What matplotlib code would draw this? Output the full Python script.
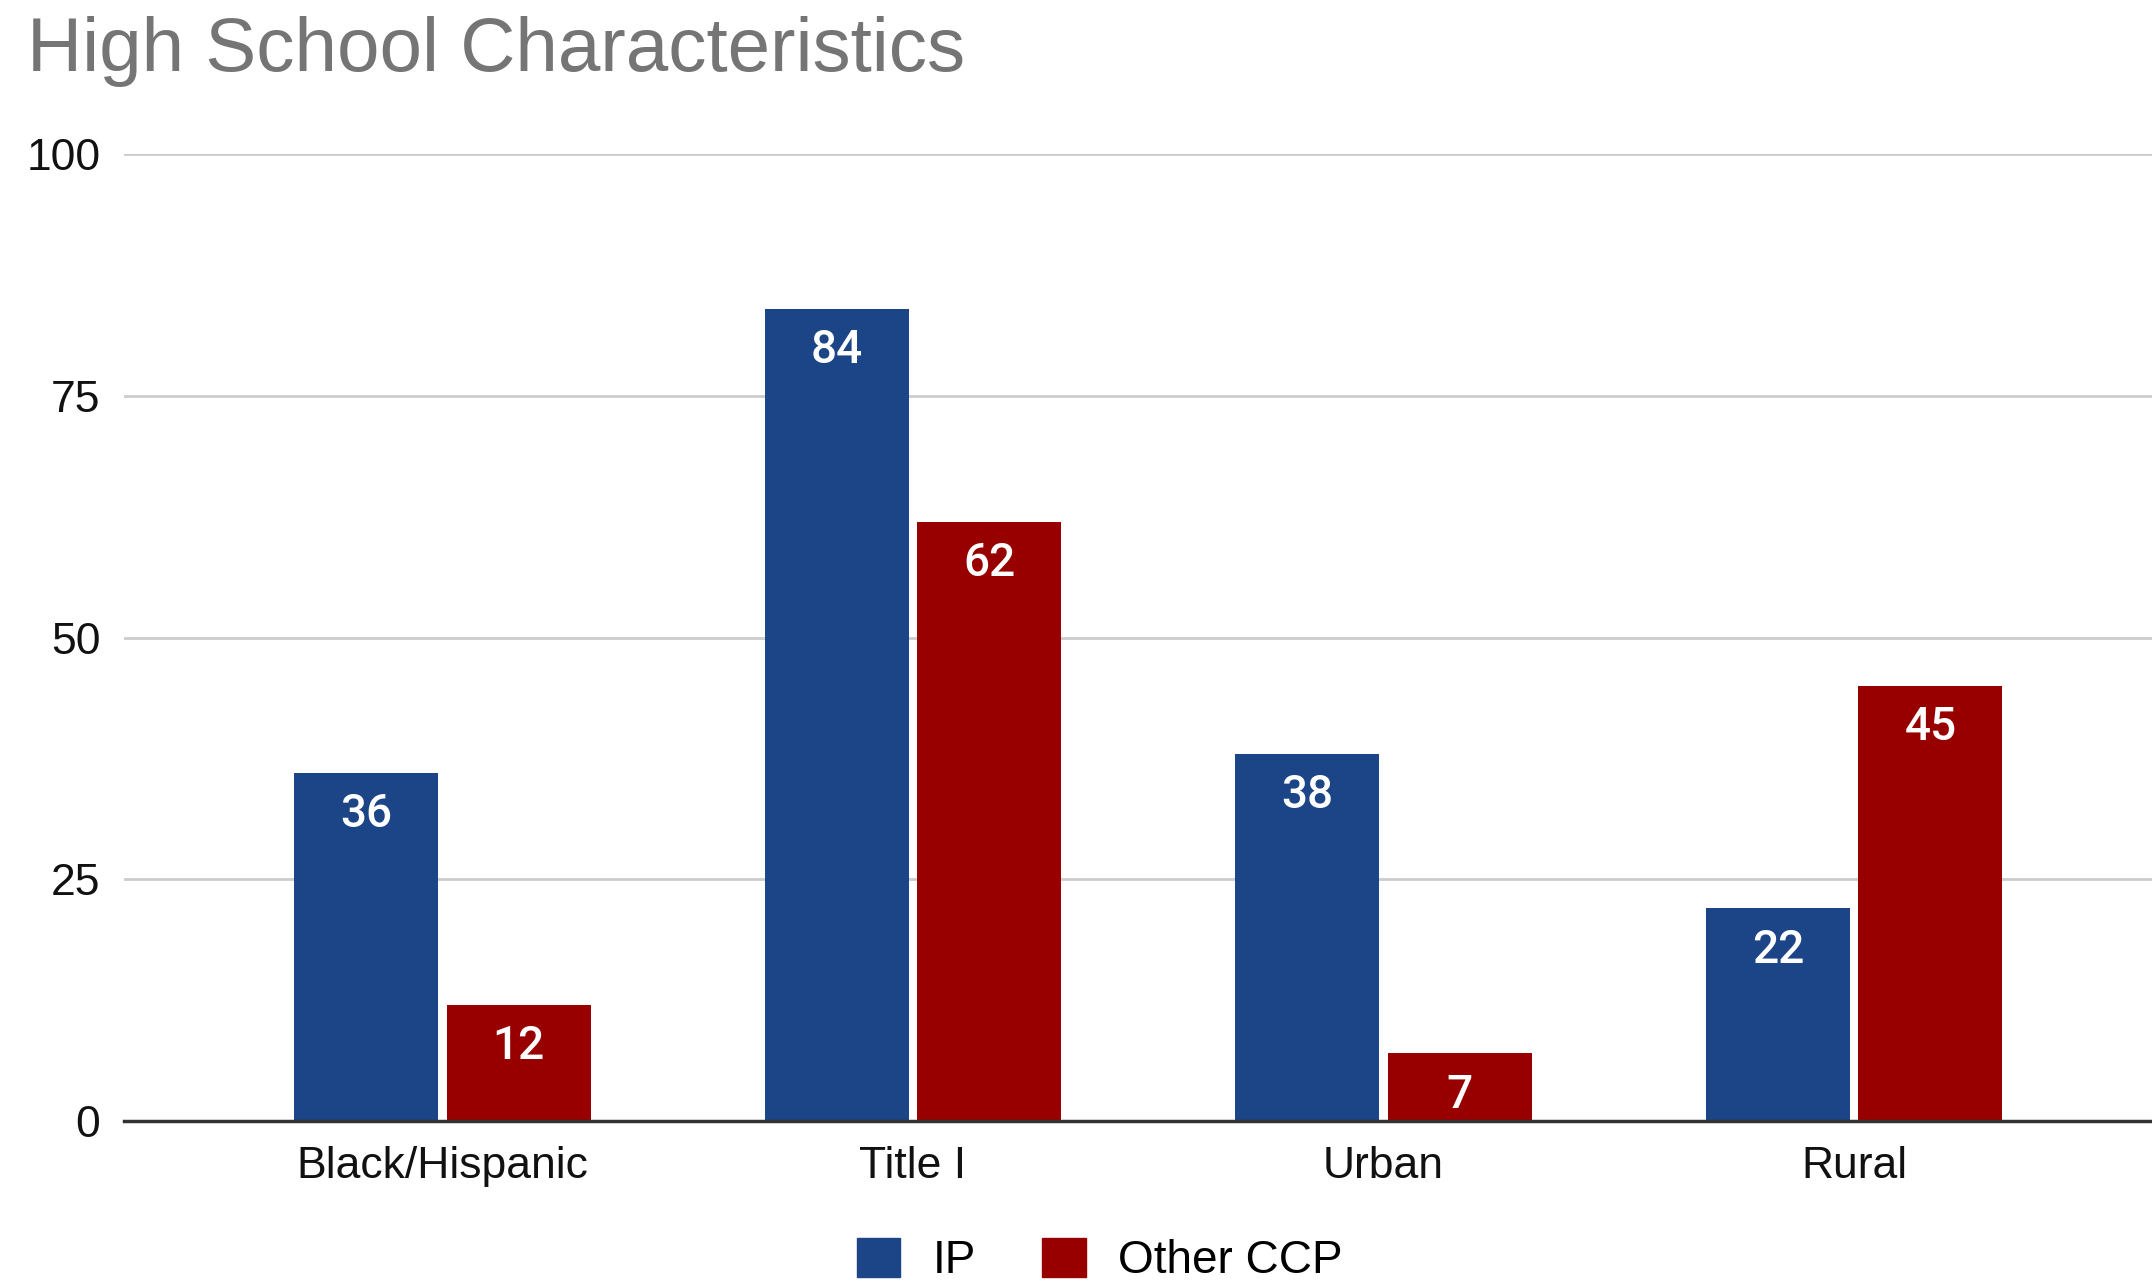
import numpy as np
import matplotlib
matplotlib.use("Agg")
from matplotlib import pyplot as plt
from matplotlib.patches import Patch

categories = ["Black/Hispanic", "Title I", "Urban", "Rural"]
ip_values = [36, 84, 38, 22]
other_ccp_values = [12, 62, 7, 45]
series_names = ["IP", "Other CCP"]
yticks = [0, 25, 50, 75, 100]

BLUE = "#1c4587"
RED = "#980000"
SANS = ["Liberation Sans", "DejaVu Sans"]

fig = plt.figure(figsize=(21.52, 12.85), dpi=100, facecolor="w")
ax = fig.add_axes([0.0576, 0.1276, 0.9424, 0.7524])

x = np.arange(len(categories))
width = 0.306
offset = 0.162

bars_ip = ax.bar(x - offset, ip_values, width, color=BLUE, zorder=3)
bars_oc = ax.bar(x + offset, other_ccp_values, width, color=RED, zorder=3)

# value labels sit just inside the top of each bar
for bars, vals in ((bars_ip, ip_values), (bars_oc, other_ccp_values)):
    for b, v in zip(bars, vals):
        ax.annotate(str(v), (b.get_x() + b.get_width() / 2, v),
                    xytext=(0, -14), textcoords="offset points",
                    ha="center", va="top", color="white",
                    fontsize=33, fontweight="medium",
                    family=["Roboto", "DejaVu Sans"], zorder=4)

ax.set_xlim(-0.677, 3.633)
ax.set_ylim(0, 100)
ax.set_yticks(yticks)
ax.set_xticks(x)
ax.set_xticklabels(categories)
ax.tick_params(axis="both", length=0, labelsize=32, labelcolor="#111111")
ax.tick_params(axis="y", pad=17)
ax.tick_params(axis="x", pad=18)
for lab in ax.get_xticklabels() + ax.get_yticklabels():
    lab.set_family(SANS)

ax.grid(axis="y", color="#cccccc", lw=2, zorder=0)
for s in ("top", "right", "left"):
    ax.spines[s].set_visible(False)
ax.spines["bottom"].set_color("#333333")
ax.spines["bottom"].set_linewidth(2.5)
ax.spines["bottom"].set_zorder(5)

fig.text(0.0126, 0.945, "High School Characteristics", fontsize=55,
         color="#757575", family=SANS, ha="left", va="baseline")

handles = [Patch(color=BLUE), Patch(color=RED)]
fig.legend(handles, series_names, loc="center", bbox_to_anchor=(0.511, 0.019),
           ncol=2, frameon=False, handlelength=0.95, handleheight=0.95,
           handletextpad=0.7, columnspacing=1.45,
           prop={"family": SANS, "size": 33})

fig.savefig("out.png", dpi=100, facecolor="w")
